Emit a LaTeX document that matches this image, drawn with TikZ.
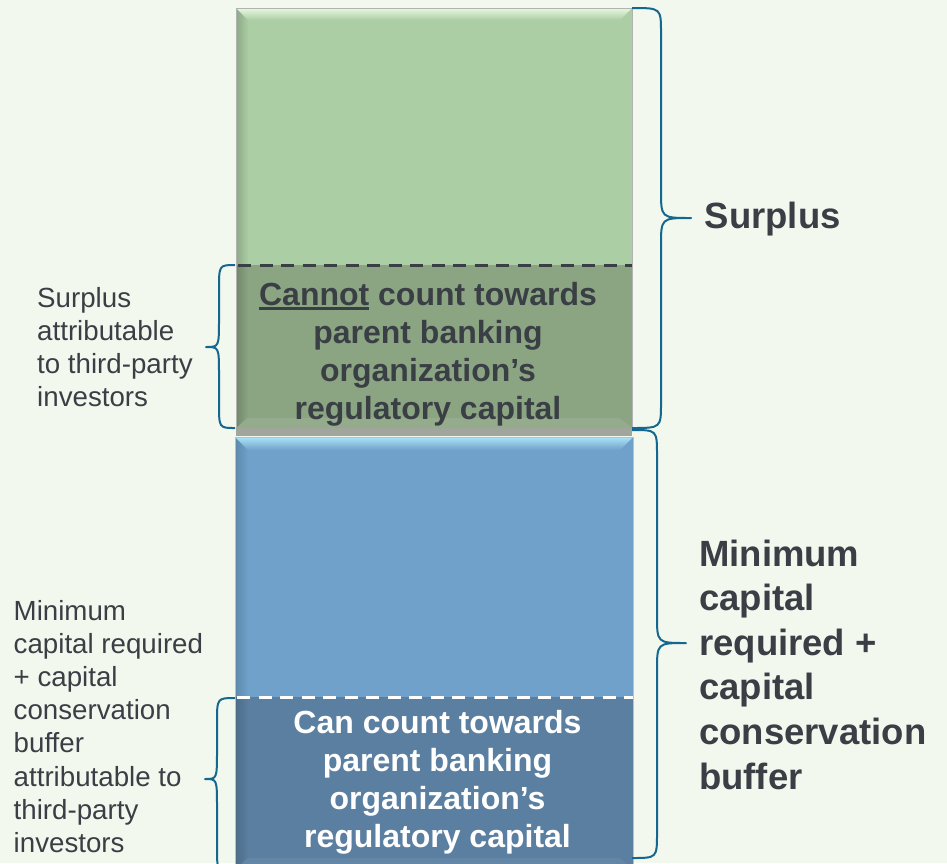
\documentclass[tikz,border=0pt]{standalone}
\usepackage{fontspec}
\setmainfont{Liberation Sans}
\usetikzlibrary{fadings}
\definecolor{bgc}{HTML}{F3F8EF}
\definecolor{grn}{HTML}{ACCEA4}
\definecolor{grnD}{HTML}{8BA582}
\definecolor{grnL}{HTML}{E8F8E0}
\definecolor{blu}{HTML}{6FA1CA}
\definecolor{bluD}{HTML}{5B7FA1}
\definecolor{bluL}{HTML}{ABE3F8}
\definecolor{txt}{HTML}{3A3F45}
\definecolor{brc}{HTML}{14678F}
\definecolor{shd}{HTML}{A0A69C}
\newcommand\Lines[1]{\vtop{\halign{##\hfil\cr#1\crcr}}}
\newcommand\Clines[1]{\vtop{\halign{\hfil##\hfil\cr#1\crcr}}}
\newcommand\ulword[1]{\setbox0\hbox{#1}\rlap{\rule[-4.5pt]{\wd0}{2.2pt}}\box0\relax}
\newcommand\mybrace[6]{\draw[bracestyle] (#1,#3) .. controls (#2,#3) .. ({#2},{#3+25}) -- ({#2},{#5-28}) .. controls (#2,#5) .. (#6,#5) .. controls (#2,#5) .. ({#2},{#5+28}) -- ({#2},{#4-25}) .. controls (#2,#4) .. (#1,#4);}
\tikzfading[name=fadeLR, left color=transparent!0, right color=transparent!100]
\begin{document}
\begin{tikzpicture}[x=1pt,y=-1pt,
  bracestyle/.style={draw=brc, line width=2pt, line join=round},
  smalltxt/.style={inner sep=0, text=txt, font=\fontsize{27.7}{33.2}\selectfont},
  boxtxt/.style={inner sep=0, font=\bfseries\fontsize{32}{38.2}\selectfont},
  bigtxt/.style={inner sep=0, text=txt, font=\bfseries\fontsize{36.5}{44.6}\selectfont},
  dashline/.style={line width=3pt, dash pattern=on 13pt off 8.5pt}]
\useasboundingbox (0,0) rectangle (947,863);
\fill[bgc] (0,0) rectangle (947,863);
% ---------- green box ----------
\fill[grn] (236,8) rectangle (632,265);
\fill[grnD] (236,265) rectangle (632,428);
\shade[top color=grnL, bottom color=grn] (236,8) -- (632,8) -- (620,20) -- (248,20) -- cycle;
\fill[black, fill opacity=0.18, path fading=fadeLR] (236,8) -- (248,20) -- (248,416) -- (236,428) -- cycle;
\fill[white, fill opacity=0.08] (236,428) -- (248,418) -- (620,418) -- (632,428) -- cycle;
\draw[gray!60, line width=0.8pt] (236,8) rectangle (632,428);
\fill[shd] (236,428) rectangle (632,436);
\draw[dashline, draw=txt] (238,265) -- (632,265);
% ---------- blue box ----------
\fill[blu] (235,437) rectangle (633,697);
\fill[bluD] (235,697) rectangle (633,870);
\shade[top color=bluL, bottom color=blu] (235,437) -- (633,437) -- (620,450) -- (248,450) -- cycle;
\fill[black, fill opacity=0.15, path fading=fadeLR] (235,437) -- (248,450) -- (248,857) -- (235,870) -- cycle;
\fill[white, fill opacity=0.06] (235,870) -- (248,858) -- (620,858) -- (633,870) -- cycle;
\draw[gray!50, line width=0.8pt] (235,437) rectangle (633,870);
\draw[dashline, draw=white] (237,697) -- (633,697);
% ---------- texts ----------
\node[boxtxt, text=txt, anchor=base] (cannot) at (428,305)
  {\Clines{\ulword{Cannot} count towards\cr parent banking\cr organization’s\cr regulatory capital}};
\node[boxtxt, text=white, anchor=base] (can) at (437.5,733)
  {\Clines{Can count towards\cr parent banking\cr organization’s\cr regulatory capital}};
\node[smalltxt, anchor=base west] (sl) at (37,307)
  {\Lines{Surplus\cr attributable\cr to third-party\cr investors}};
\node[smalltxt, anchor=base west] (ml) at (13.5,620)
  {\Lines{Minimum\cr capital required\cr + capital\cr conservation\cr buffer\cr attributable to\cr third-party\cr investors}};
\node[bigtxt, anchor=base west] (sr) at (704.5,228) {Surplus};
\node[bigtxt, anchor=base west] (mr) at (699,566)
  {\Lines{Minimum\cr capital\cr required +\cr capital\cr conservation\cr buffer}};
% ---------- braces ----------
\mybrace{632}{661}{8}{428}{218}{691}
\mybrace{632}{657}{430}{858}{643}{686}
\mybrace{235}{219}{265}{428}{347}{206}
\mybrace{235}{217}{698}{872}{779}{205}
\end{tikzpicture}
\end{document}
